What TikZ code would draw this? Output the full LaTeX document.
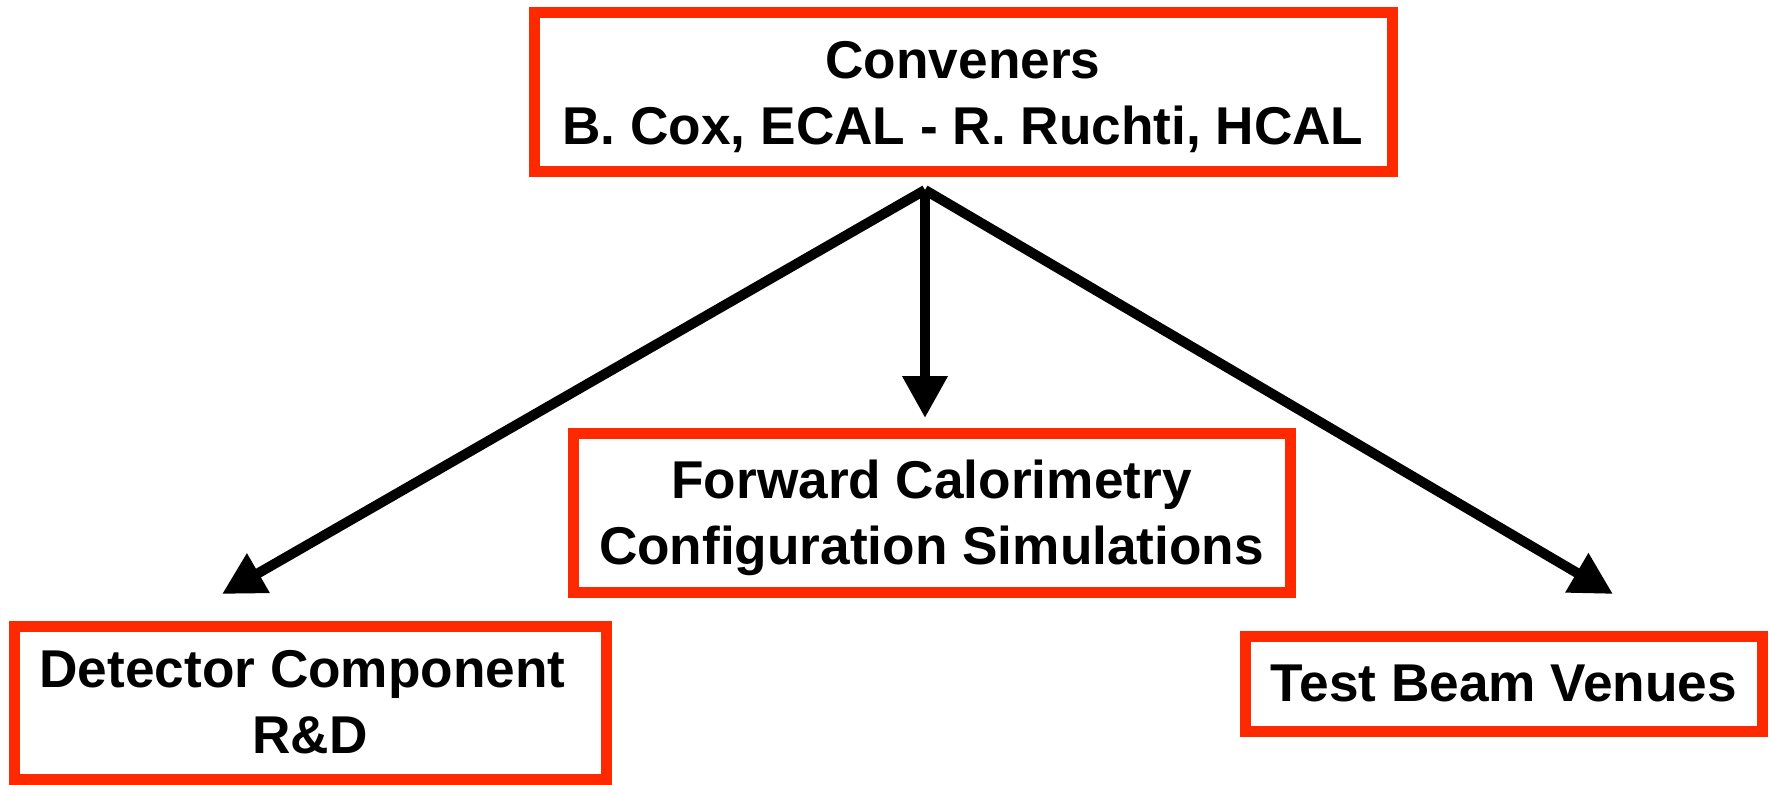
\documentclass[tikz,border=0pt]{standalone}
\usepackage{fontspec}
\setmainfont{Liberation Sans}
\usetikzlibrary{arrows.meta}
\definecolor{boxred}{RGB}{255,41,0}
\newcommand{\topstrut}{\rule{0pt}{24.2pt}}
\begin{document}
\begin{tikzpicture}[x=0.5pt,y=-0.5pt,
  box/.style={draw=boxred, line width=5.5pt, align=center, inner sep=0pt,
    font=\fontsize{26.6}{33}\selectfont\bfseries},
  conn/.style={line width=5pt, -{Triangle[length=21pt,width=21.5pt]}}]
\useasboundingbox (0,0) rectangle (1769,784);
\node[box, minimum width=429pt, minimum height=79.5pt] (top) at (963,91.5)
  {\topstrut Conveners\\B. Cox, ECAL - R. Ruchti, HCAL};
\node[box, minimum width=358.5pt, minimum height=79.5pt] (fwd) at (931.5,512.5)
  {\topstrut Forward Calorimetry\\Configuration Simulations};
\node[box, minimum width=296pt, minimum height=76.5pt] (det) at (310,702.5)
  {Detector Component\ \null\\R\&D};
\node[box, minimum width=258.75pt, minimum height=47.5pt] (tbv) at (1504,683.5)
  {Test Beam Venues};
\coordinate (apex) at (925,190);
\coordinate (tipL) at (222,594);
\coordinate (tipC) at (925,418);
\coordinate (tipR) at (1613,594);
\draw[conn] (apex) -- (tipL);
\draw[conn] (apex) -- (tipC);
\draw[conn] (apex) -- (tipR);
\end{tikzpicture}
\end{document}
